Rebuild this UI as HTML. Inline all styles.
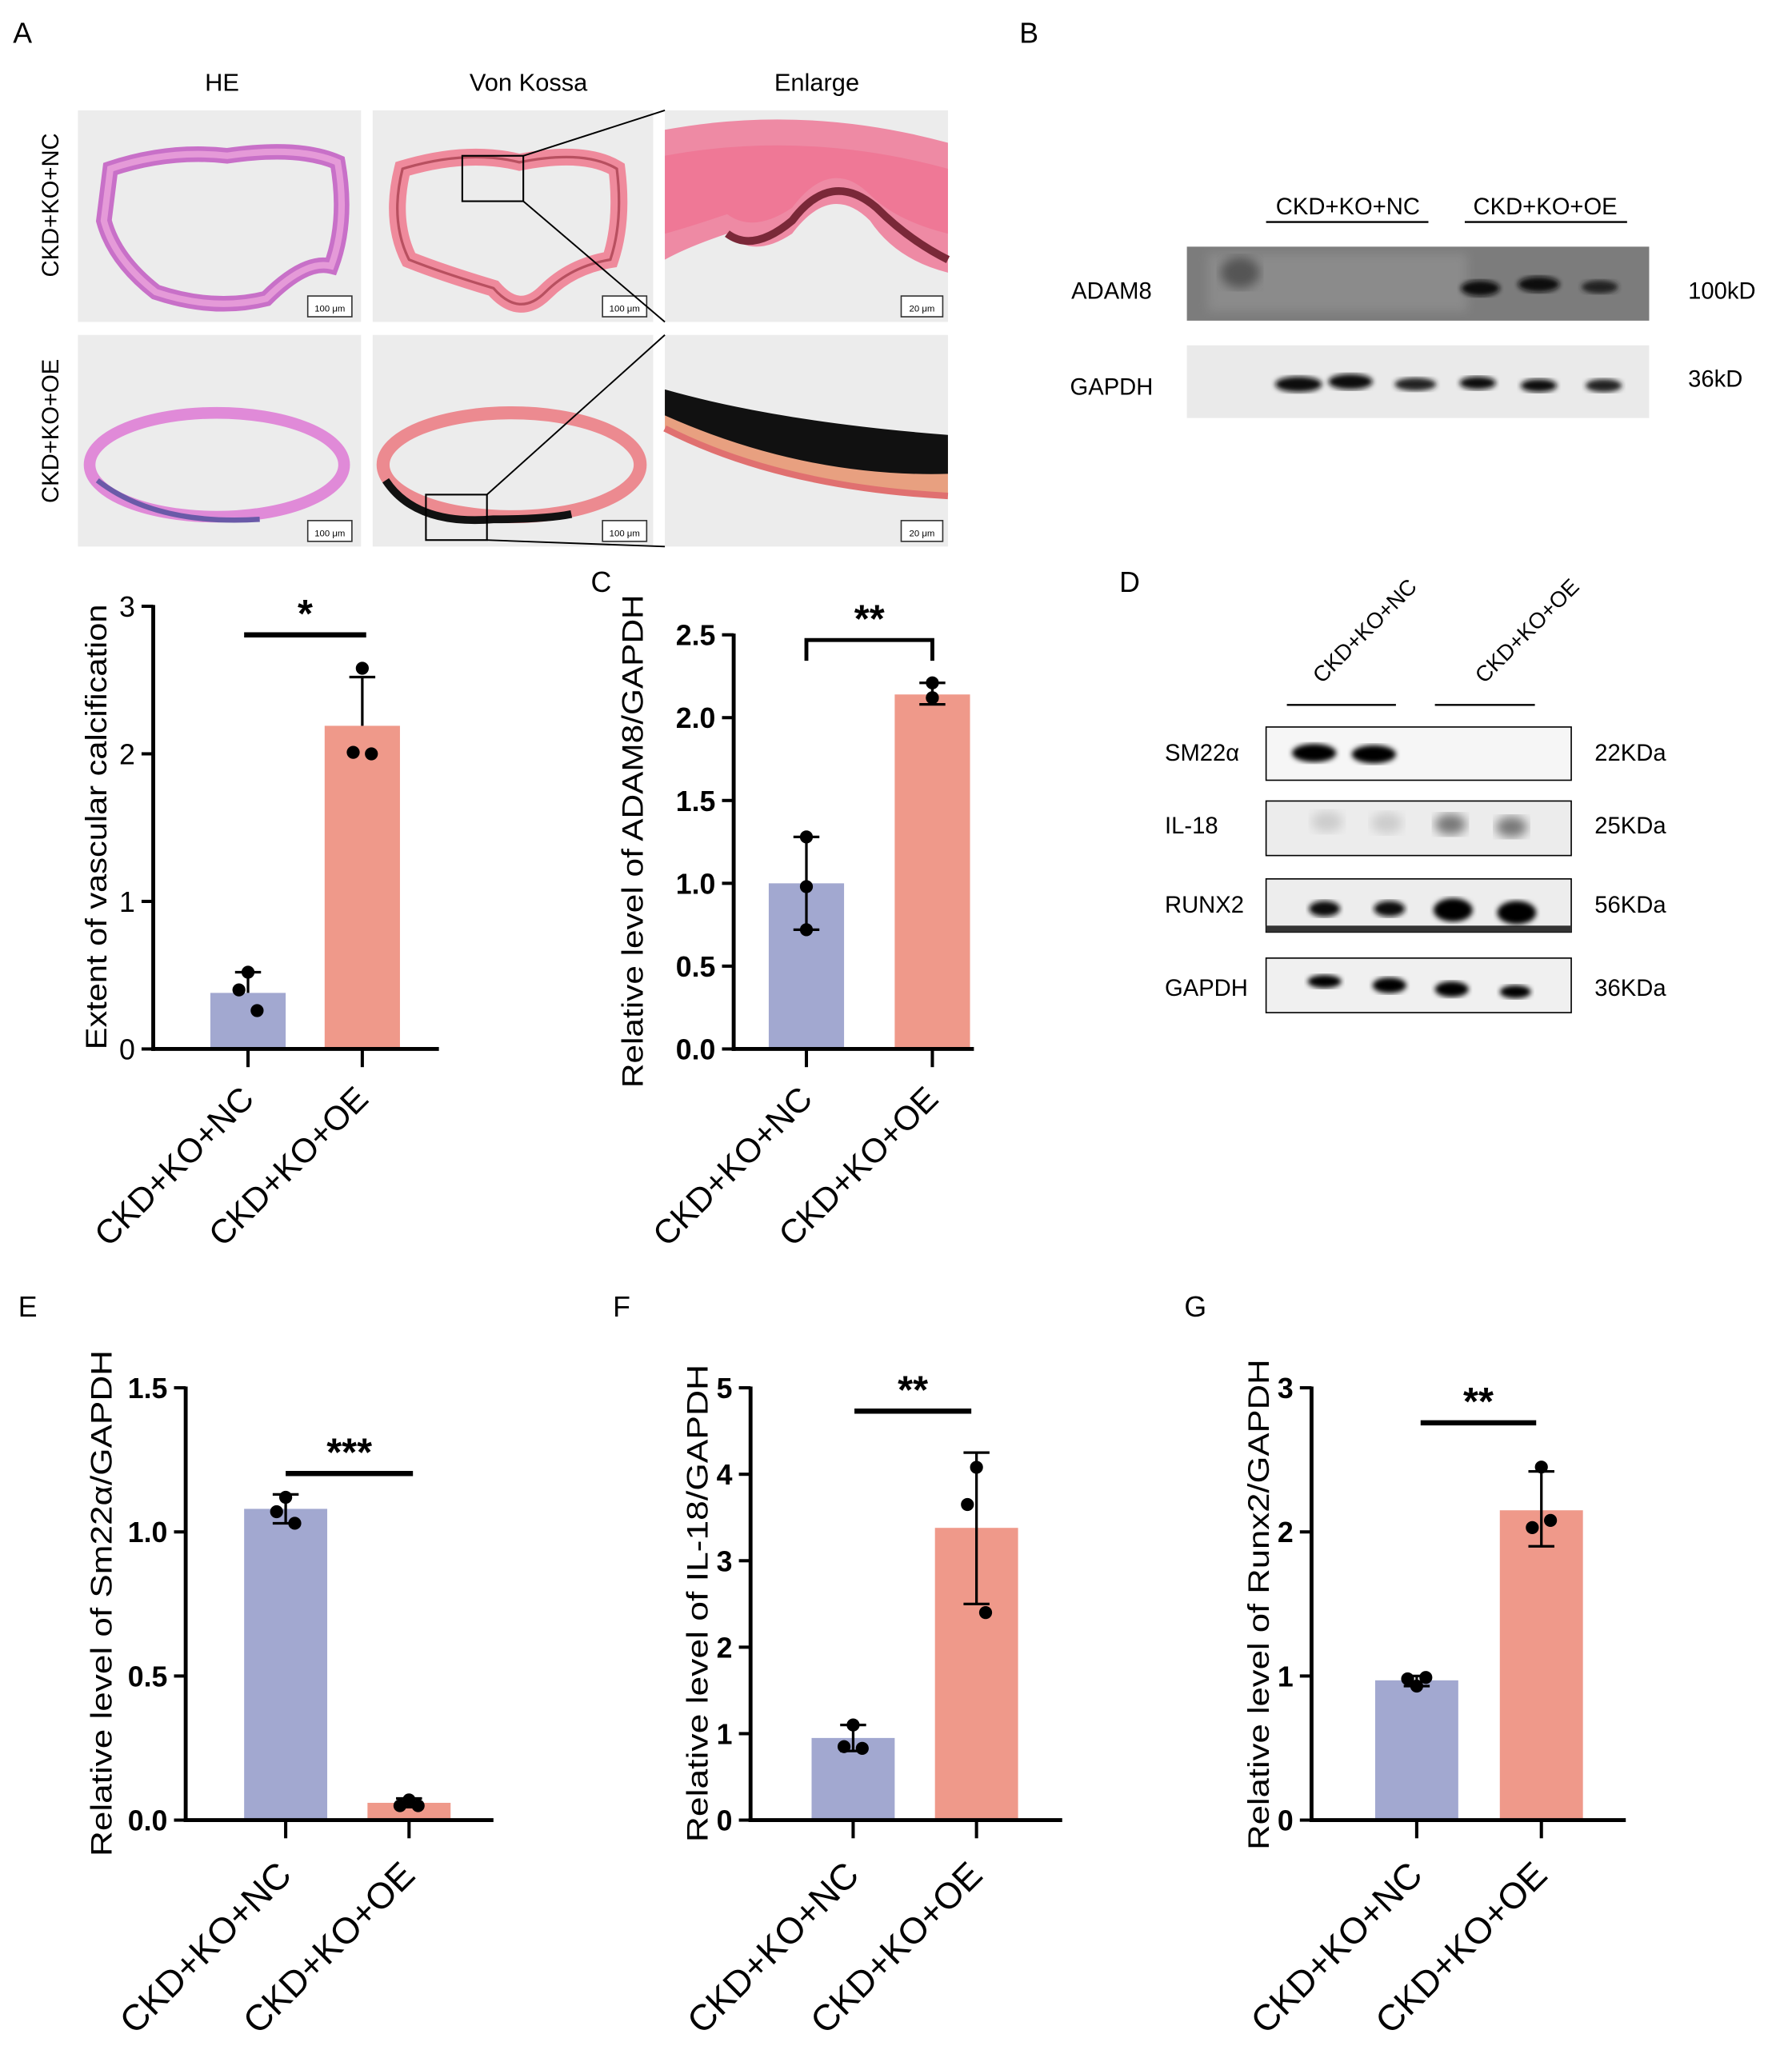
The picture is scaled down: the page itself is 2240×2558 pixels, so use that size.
<!DOCTYPE html>
<html><head><meta charset="utf-8"><style>
html,body{margin:0;padding:0;background:#fff;}
svg{display:block;font-family:"Liberation Sans",sans-serif;}
</style></head><body>
<svg id="fig" width="2240" height="2558" viewBox="0 0 1380 1576" preserveAspectRatio="none" xmlns="http://www.w3.org/2000/svg">
<defs>
<filter id="blur2"><feGaussianBlur stdDeviation="2"/></filter>
<filter id="blur4"><feGaussianBlur stdDeviation="4"/></filter>
</defs>
<rect width="1380" height="1576" fill="#fff"/>

<g>
<text x="10" y="33" font-size="22">A</text>
<text x="171" y="70" font-size="19" text-anchor="middle">HE</text>
<text x="407" y="70" font-size="19" text-anchor="middle">Von Kossa</text>
<text x="629" y="70" font-size="19" text-anchor="middle">Enlarge</text>
<text transform="translate(45,158) rotate(-90)" font-size="18" text-anchor="middle">CKD+KO+NC</text>
<text transform="translate(45,332) rotate(-90)" font-size="18" text-anchor="middle">CKD+KO+OE</text>

<g>
<rect x="60" y="85" width="218" height="163" fill="#ececec"/>
<path d="M85 130 Q130 115 175 120 Q230 112 260 125 Q268 170 255 205 Q235 200 205 230 Q165 240 120 225 Q88 200 80 170 Z" fill="none" stroke="#c870c8" stroke-width="12"/>
<path d="M85 130 Q130 115 175 120 Q230 112 260 125 Q268 170 255 205 Q235 200 205 230 Q165 240 120 225 Q88 200 80 170 Z" fill="none" stroke="#e59ad8" stroke-width="5"/>
<rect x="237" y="228" width="34" height="16" fill="#fff" stroke="#333" stroke-width="1"/>
<text x="254" y="240" font-size="7" text-anchor="middle">100 μm</text>
</g>
<g>
<rect x="287" y="85" width="216" height="163" fill="#ececec"/>
<path d="M310 130 Q360 115 400 125 Q450 115 475 130 Q480 170 470 200 Q440 205 420 225 Q400 245 380 222 Q340 210 315 200 Q300 170 310 130 Z" fill="none" stroke="#ef8a9c" stroke-width="13"/>
<path d="M310 130 Q360 115 400 125 Q450 115 475 130 Q480 170 470 200 Q440 205 420 225 Q400 245 380 222 Q340 210 315 200 Q300 170 310 130 Z" fill="none" stroke="#b85060" stroke-width="2"/>
<rect x="356" y="120" width="47" height="35" fill="none" stroke="#000" stroke-width="1.3"/>
<rect x="464" y="228" width="34" height="16" fill="#fff" stroke="#333" stroke-width="1"/>
<text x="481" y="240" font-size="7" text-anchor="middle">100 μm</text>
</g>
<g>
<rect x="512" y="85" width="218" height="163" fill="#ececec"/>
<path d="M512 100 Q620 80 730 110 L730 210 Q690 200 670 170 Q640 140 610 180 Q580 200 560 180 Q530 190 512 200 Z" fill="#ee8aa4"/>
<path d="M512 120 Q620 100 730 130 L730 180 Q690 170 670 150 Q640 120 610 160 Q580 180 560 165 Q530 175 512 180 Z" fill="#f06c8e" opacity="0.6"/>
<path d="M560 180 Q580 195 610 170 Q640 130 675 160 Q700 185 730 200" fill="none" stroke="#7a2838" stroke-width="6"/>
<rect x="694" y="228" width="32" height="16" fill="#fff" stroke="#333" stroke-width="1"/>
<text x="710" y="240" font-size="7" text-anchor="middle">20 μm</text>
</g>
<g>
<rect x="60" y="258" width="218" height="163" fill="#ececec"/>
<ellipse cx="167" cy="358" rx="98" ry="40" fill="none" stroke="#e08ad8" stroke-width="9"/>
<path d="M75 370 Q120 405 200 400" fill="none" stroke="#6a5aa8" stroke-width="4"/>
<rect x="237" y="401" width="34" height="16" fill="#fff" stroke="#333" stroke-width="1"/>
<text x="254" y="413" font-size="7" text-anchor="middle">100 μm</text>
</g>
<g>
<rect x="287" y="258" width="216" height="163" fill="#ececec"/>
<ellipse cx="394" cy="358" rx="99" ry="40" fill="none" stroke="#ec8a90" stroke-width="10"/>
<path d="M297 370 Q320 405 380 400 Q420 400 440 396" fill="none" stroke="#111" stroke-width="6"/>
<rect x="328" y="381" width="47" height="35" fill="none" stroke="#000" stroke-width="1.3"/>
<rect x="464" y="401" width="34" height="16" fill="#fff" stroke="#333" stroke-width="1"/>
<text x="481" y="413" font-size="7" text-anchor="middle">100 μm</text>
</g>
<g>
<rect x="512" y="258" width="218" height="163" fill="#ececec"/>
<path d="M512 305 Q600 330 730 340 L730 380 Q620 385 512 330 Z" fill="#e8a080"/>
<path d="M512 300 Q600 325 730 335 L730 365 Q620 368 512 320 Z" fill="#111"/>
<path d="M512 330 Q600 375 730 382" fill="none" stroke="#e07070" stroke-width="5"/>
<rect x="694" y="401" width="32" height="16" fill="#fff" stroke="#333" stroke-width="1"/>
<text x="710" y="413" font-size="7" text-anchor="middle">20 μm</text>
</g>
<g stroke="#000" stroke-width="1.2">
<line x1="403" y1="120" x2="512" y2="85"/><line x1="403" y1="155" x2="512" y2="248"/>
<line x1="375" y1="381" x2="512" y2="258"/><line x1="375" y1="416" x2="512" y2="421"/>
</g>
</g>

<g>
<text x="785" y="33" font-size="22">B</text>
<text x="1038" y="165" font-size="18" text-anchor="middle">CKD+KO+NC</text>
<line x1="975" y1="171" x2="1100" y2="171" stroke="#000" stroke-width="1.5"/>
<text x="1190" y="165" font-size="18" text-anchor="middle">CKD+KO+OE</text>
<line x1="1128" y1="171" x2="1253" y2="171" stroke="#000" stroke-width="1.5"/>
<text x="856" y="230" font-size="18" text-anchor="middle">ADAM8</text>
<text x="856" y="304" font-size="18" text-anchor="middle">GAPDH</text>
<text x="1300" y="230" font-size="18">100kD</text>
<text x="1300" y="298" font-size="18">36kD</text>
<g>
<rect x="914" y="190" width="356" height="57" fill="#7c7c7c"/>
<rect x="930" y="195" width="200" height="45" fill="#9a9a9a" filter="url(#blur4)" opacity="0.5"/>
<ellipse cx="955" cy="210" rx="15" ry="12" fill="#555" filter="url(#blur4)"/>
<ellipse cx="1140" cy="222" rx="15" ry="6" fill="#111" filter="url(#blur2)"/>
<ellipse cx="1185" cy="219" rx="16" ry="6" fill="#111" filter="url(#blur2)"/>
<ellipse cx="1232" cy="221" rx="14" ry="5" fill="#222" filter="url(#blur2)"/>
</g>
<g>
<rect x="914" y="266" width="356" height="56" fill="#eaeaea"/>
<ellipse cx="1000" cy="296" rx="18" ry="6" fill="#111" filter="url(#blur2)"/>
<ellipse cx="1040" cy="294" rx="17" ry="6" fill="#111" filter="url(#blur2)"/>
<ellipse cx="1090" cy="296" rx="16" ry="5" fill="#222" filter="url(#blur2)"/>
<ellipse cx="1138" cy="295" rx="14" ry="5" fill="#111" filter="url(#blur2)"/>
<ellipse cx="1185" cy="297" rx="14" ry="5" fill="#111" filter="url(#blur2)"/>
<ellipse cx="1235" cy="297" rx="14" ry="5" fill="#222" filter="url(#blur2)"/>
</g>
</g>

<g>
<text x="862" y="456" font-size="22">D</text>
<text transform="translate(1055,490) rotate(-45)" font-size="17" text-anchor="middle">CKD+KO+NC</text>
<text transform="translate(1180,490) rotate(-45)" font-size="17" text-anchor="middle">CKD+KO+OE</text>
<line x1="991" y1="543" x2="1075" y2="543" stroke="#000" stroke-width="1.5"/>
<line x1="1105" y1="543" x2="1182" y2="543" stroke="#000" stroke-width="1.5"/>
<text x="897" y="586" font-size="18">SM22α</text>
<text x="897" y="642" font-size="18">IL-18</text>
<text x="897" y="703" font-size="18">RUNX2</text>
<text x="897" y="767" font-size="18">GAPDH</text>
<text x="1228" y="586" font-size="18">22KDa</text>
<text x="1228" y="642" font-size="18">25KDa</text>
<text x="1228" y="703" font-size="18">56KDa</text>
<text x="1228" y="767" font-size="18">36KDa</text>
<g>
<rect x="975" y="560" width="235" height="41" fill="#f6f6f6" stroke="#000" stroke-width="1"/>
<ellipse cx="1012" cy="580" rx="17" ry="7" fill="#000" filter="url(#blur2)"/>
<ellipse cx="1058" cy="581" rx="17" ry="7" fill="#000" filter="url(#blur2)"/>
</g>
<g>
<rect x="975" y="617" width="235" height="42" fill="#ececec" stroke="#000" stroke-width="1"/>
<ellipse cx="1022" cy="633" rx="12" ry="8" fill="#ccc" filter="url(#blur4)"/>
<ellipse cx="1068" cy="634" rx="12" ry="8" fill="#ccc" filter="url(#blur4)"/>
<ellipse cx="1117" cy="635" rx="12" ry="8" fill="#777" filter="url(#blur4)"/>
<ellipse cx="1164" cy="637" rx="12" ry="8" fill="#777" filter="url(#blur4)"/>
</g>
<g>
<rect x="975" y="677" width="235" height="41" fill="#ededed" stroke="#000" stroke-width="1"/>
<rect x="975" y="713" width="235" height="5" fill="#333"/>
<ellipse cx="1020" cy="700" rx="12" ry="6" fill="#111" filter="url(#blur2)"/>
<ellipse cx="1070" cy="700" rx="12" ry="6" fill="#111" filter="url(#blur2)"/>
<ellipse cx="1119" cy="701" rx="15" ry="9" fill="#000" filter="url(#blur2)"/>
<ellipse cx="1168" cy="703" rx="15" ry="9" fill="#000" filter="url(#blur2)"/>
</g>
<g>
<rect x="975" y="738" width="235" height="42" fill="#f0f0f0" stroke="#000" stroke-width="1"/>
<ellipse cx="1020" cy="756" rx="13" ry="5" fill="#000" filter="url(#blur2)"/>
<ellipse cx="1070" cy="759" rx="13" ry="6" fill="#000" filter="url(#blur2)"/>
<ellipse cx="1118" cy="762" rx="13" ry="6" fill="#000" filter="url(#blur2)"/>
<ellipse cx="1167" cy="764" rx="12" ry="5" fill="#000" filter="url(#blur2)"/>
</g>
</g>

<text x="455" y="456" font-size="22">C</text>
<text x="14" y="1014" font-size="22">E</text>
<text x="472" y="1014" font-size="22">F</text>
<text x="912" y="1014" font-size="22">G</text>
<g id="charts"></g>
</svg>
<script>
const categories = ["CKD+KO+NC", "CKD+KO+OE"];

const calcMeans = [0.38, 2.19];
const calcErrUp = [0.52, 2.52];
const calcErrLow = [null, null];
const calcPointsNC = [0.52, 0.40, 0.26];
const calcPointsOE = [2.58, 2.01, 2.00];
const calcTicks = [0, 1, 2, 3];
const calcTickLabels = ["0", "1", "2", "3"];

const adamMeans = [1.0, 2.14];
const adamErrUp = [1.28, 2.21];
const adamErrLow = [0.72, 2.08];
const adamPointsNC = [1.28, 0.98, 0.72];
const adamPointsOE = [2.21, 2.12, 2.12];
const adamTicks = [0, 0.5, 1.0, 1.5, 2.0, 2.5];
const adamTickLabels = ["0.0", "0.5", "1.0", "1.5", "2.0", "2.5"];

const smMeans = [1.08, 0.06];
const smErrUp = [1.13, 0.075];
const smErrLow = [1.03, 0.045];
const smPointsNC = [1.12, 1.07, 1.03];
const smPointsOE = [0.07, 0.05, 0.05];
const smTicks = [0, 0.5, 1.0, 1.5];
const smTickLabels = ["0.0", "0.5", "1.0", "1.5"];

const ilMeans = [0.95, 3.38];
const ilErrUp = [1.10, 4.25];
const ilErrLow = [0.80, 2.50];
const ilPointsNC = [1.10, 0.85, 0.83];
const ilPointsOE = [4.08, 3.65, 2.40];
const ilTicks = [0, 1, 2, 3, 4, 5];
const ilTickLabels = ["0", "1", "2", "3", "4", "5"];

const rxMeans = [0.97, 2.15];
const rxErrUp = [1.00, 2.42];
const rxErrLow = [0.93, 1.90];
const rxPointsNC = [0.93, 0.98, 0.99];
const rxPointsOE = [2.45, 2.03, 2.08];
const rxTicks = [0, 1, 2, 3];
const rxTickLabels = ["0", "1", "2", "3"];

const NS = "http://www.w3.org/2000/svg";
const root = document.getElementById("charts");
const colors = ["#a2a8d0", "#ef998a"];

function mk(tag, attrs, parent) {
  const e = document.createElementNS(NS, tag);
  for (const k in attrs) e.setAttribute(k, attrs[k]);
  parent.appendChild(e);
  return e;
}

function drawChart(cfg) {
  const g = mk("g", {}, root);
  
  
  const yMax = cfg.ticks[cfg.ticks.length - 1];
  const yScale = v => cfg.y0 - (v / yMax) * (cfg.y0 - cfg.yTop);
  const xs = [cfg.x0 + cfg.c1, cfg.x0 + cfg.c2];
  const bw = cfg.bw;
  cfg.means.forEach((m, i) => {
    const b = mk("rect", {x: xs[i] - bw / 2, y: yScale(m), width: bw, height: cfg.y0 - yScale(m), fill: colors[i]}, g);
    
    
  });
  cfg.means.forEach((m, i) => {
    const up = cfg.errUp[i], lo = cfg.errLow[i];
    const top = yScale(up), bot = lo === null ? yScale(m) : yScale(lo);
    const eg = mk("g", {stroke: "#000", "stroke-width": 2}, g);
    
    
    mk("line", {x1: xs[i], y1: top, x2: xs[i], y2: bot}, eg);
    mk("line", {x1: xs[i] - 10, y1: top, x2: xs[i] + 10, y2: top}, eg);
    if (lo !== null) mk("line", {x1: xs[i] - 10, y1: yScale(lo), x2: xs[i] + 10, y2: yScale(lo)}, eg);
  });
  [cfg.ptsNC, cfg.ptsOE].forEach((pts, i) => {
    const offs = [0, -7, 7];
    pts.forEach((p, j) => {
      const c = mk("circle", {cx: xs[i] + (cfg.jitter ? offs[j] : 0), cy: yScale(p), r: 5, fill: "#000"}, g);
      
      
    });
  });
  const yAxis = mk("line", {x1: cfg.x0, y1: cfg.yTop - 1, x2: cfg.x0, y2: cfg.y0 + 1.5, stroke: "#000", "stroke-width": 3}, g);
  
  
  const xAxis = mk("line", {x1: cfg.x0 - 1.5, y1: cfg.y0, x2: cfg.xEnd, y2: cfg.y0, stroke: "#000", "stroke-width": 3}, g);
  
  
  cfg.ticks.forEach((t, i) => {
    const y = yScale(t);
    mk("line", {x1: cfg.x0 - 9, y1: y, x2: cfg.x0, y2: y, stroke: "#000", "stroke-width": 2.5}, g);
    const tl = mk("text", {x: cfg.x0 - 14, y: y + 8, "font-size": 22, "text-anchor": "end", "font-weight": cfg.bold ? "bold" : "normal"}, g);
    tl.textContent = cfg.tickLabels[i];
    
    
  });
  xs.forEach((x, i) => {
    mk("line", {x1: x, y1: cfg.y0, x2: x, y2: cfg.y0 + 14, stroke: "#000", "stroke-width": 2.5}, g);
    const xl = mk("text", {transform: "translate(" + (x + 6) + "," + (cfg.y0 + cfg.lblDy) + ") rotate(-45)", "font-size": cfg.lblSize, "text-anchor": "end"}, g);
    xl.textContent = categories[i];
    
    
  });
  const yt = mk("text", {transform: "translate(" + cfg.titleX + "," + cfg.titleY + ") rotate(-90)", "font-size": 23, "text-anchor": "middle", textLength: cfg.titleLen, lengthAdjust: "spacingAndGlyphs"}, g);
  yt.textContent = cfg.title;
  
  
  const sg = mk("g", {}, g);
  
  
  if (cfg.bracket) {
    mk("path", {d: "M" + xs[0] + " " + (cfg.sigY + 16) + " V" + cfg.sigY + " H" + xs[1] + " V" + (cfg.sigY + 16), fill: "none", stroke: "#000", "stroke-width": 3}, sg);
  } else {
    mk("line", {x1: cfg.sigX1, y1: cfg.sigY, x2: cfg.sigX2, y2: cfg.sigY, stroke: "#000", "stroke-width": 4}, sg);
  }
  const st = mk("text", {x: (cfg.bracket ? (xs[0] + xs[1]) / 2 : (cfg.sigX1 + cfg.sigX2) / 2), y: cfg.sigY - 6, "font-size": 30, "font-weight": "bold", "text-anchor": "middle"}, sg);
  st.textContent = cfg.stars;
}

drawChart({name: "chart-a-calcification", x0: 118, xEnd: 338, y0: 808, yTop: 467, c1: 73, c2: 161, bw: 58,
  means: calcMeans, errUp: calcErrUp, errLow: calcErrLow, ptsNC: calcPointsNC, ptsOE: calcPointsOE,
  ticks: calcTicks, tickLabels: calcTickLabels, title: "Extent of vascular calcification", titleX: 82, titleY: 637, titleLen: 343,
  sigY: 489, sigX1: 188, sigX2: 282, stars: "*", jitter: true, bold: false, lblDy: 40, lblSize: 26});
drawChart({name: "chart-c-adam8", x0: 565, xEnd: 750, y0: 808, yTop: 489, c1: 56, c2: 153, bw: 58,
  means: adamMeans, errUp: adamErrUp, errLow: adamErrLow, ptsNC: adamPointsNC, ptsOE: adamPointsOE,
  ticks: adamTicks, tickLabels: adamTickLabels, title: "Relative level of ADAM8/GAPDH", titleX: 495, titleY: 648, titleLen: 380,
  sigY: 493, bracket: true, stars: "**", jitter: false, bold: true, lblDy: 40, lblSize: 26});
drawChart({name: "chart-e-sm22a", x0: 143, xEnd: 380, y0: 1402, yTop: 1069, c1: 77, c2: 172, bw: 64,
  means: smMeans, errUp: smErrUp, errLow: smErrLow, ptsNC: smPointsNC, ptsOE: smPointsOE,
  ticks: smTicks, tickLabels: smTickLabels, title: "Relative level of Sm22α/GAPDH", titleX: 86, titleY: 1235, titleLen: 390,
  sigY: 1135, sigX1: 220, sigX2: 318, stars: "***", jitter: true, bold: true, lblDy: 44, lblSize: 28});
drawChart({name: "chart-f-il18", x0: 578, xEnd: 818, y0: 1402, yTop: 1069, c1: 79, c2: 174, bw: 64,
  means: ilMeans, errUp: ilErrUp, errLow: ilErrLow, ptsNC: ilPointsNC, ptsOE: ilPointsOE,
  ticks: ilTicks, tickLabels: ilTickLabels, title: "Relative level of IL-18/GAPDH", titleX: 545, titleY: 1235, titleLen: 368,
  sigY: 1087, sigX1: 658, sigX2: 748, stars: "**", jitter: true, bold: true, lblDy: 44, lblSize: 28});
drawChart({name: "chart-g-runx2", x0: 1010, xEnd: 1252, y0: 1402, yTop: 1069, c1: 81, c2: 177, bw: 64,
  means: rxMeans, errUp: rxErrUp, errLow: rxErrLow, ptsNC: rxPointsNC, ptsOE: rxPointsOE,
  ticks: rxTicks, tickLabels: rxTickLabels, title: "Relative level of Runx2/GAPDH", titleX: 977, titleY: 1236, titleLen: 378,
  sigY: 1096, sigX1: 1094, sigX2: 1183, stars: "**", jitter: true, bold: true, lblDy: 44, lblSize: 28});
</script>
</body></html>
